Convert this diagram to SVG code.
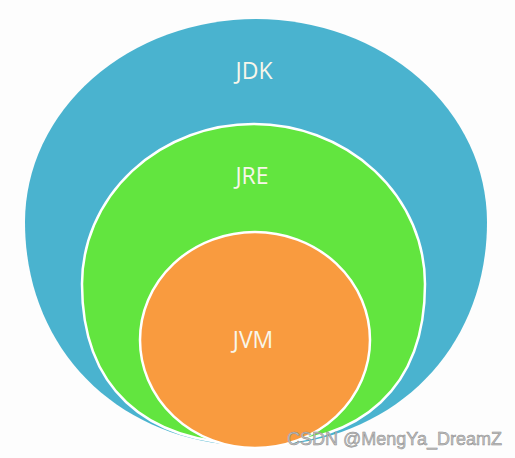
<svg xmlns="http://www.w3.org/2000/svg" width="515" height="458" viewBox="0 0 515 458">
<style>
.lbl{font-family:"Open Sans","Noto Sans",sans-serif;font-size:23px;fill:#f8f6ea;text-anchor:middle}
.ring{stroke:#ffffff;stroke-width:2.5}
</style>
<rect width="515" height="458" fill="#fdfdfd"/>
<g id="jdk">
<path d="M 25 222 A 231 203 0 0 1 487 222 C 487 352 390 446 256 446 C 122 446 25 352 25 222 Z" fill="#4ab3cf"/>
<text class="lbl" x="254" y="79">JDK</text>
</g>
<g id="jre">
<path class="ring" d="M 82 284 A 171.5 160 0 0 1 425 284 C 425 386 364 444 253.5 444 C 143 444 82 386 82 284 Z" fill="#62e53f"/>
<text class="lbl" x="252" y="184">JRE</text>
</g>
<g id="jvm">
<ellipse class="ring" cx="255" cy="340" rx="115" ry="108" fill="#f99b3f"/>
<text class="lbl" x="253" y="348">JVM</text>
</g>
<g id="connectors"/>
<text x="287" y="445" font-family="Liberation Sans, Arial, sans-serif" font-size="18" fill="#c4c4c4" stroke="#8a8a8a" stroke-width="0.5">CSDN @MengYa_DreamZ</text>
</svg>
